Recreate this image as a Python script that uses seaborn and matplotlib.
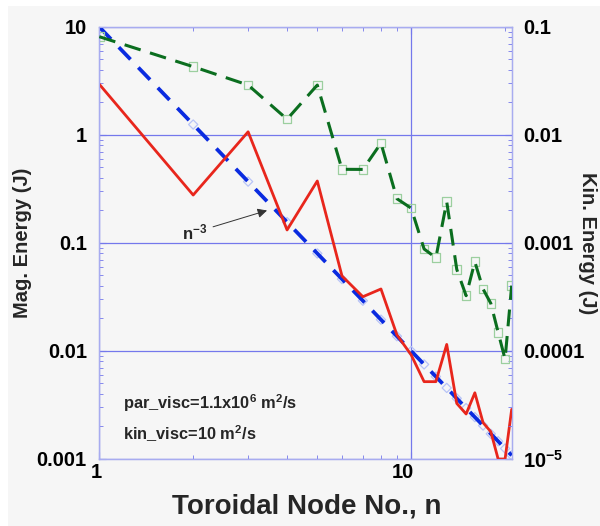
import numpy as np
import pandas as pd
import matplotlib
matplotlib.use("Agg")
import matplotlib.pyplot as plt
import matplotlib.ticker as mticker
import matplotlib.transforms as mtransforms
from matplotlib.patches import Rectangle
import seaborn as sns

# Toroidal mode numbers
n_modes = list(range(1, 22))

# Magnetic energy per toroidal mode (J), left axis
mag_energy = [2.95, 0.278, 1.07, 0.132, 0.375, 0.0495, 0.0318, 0.0375, 0.0141,
              0.0092, 0.0052, 0.0052, 0.0115, 0.00327, 0.00261, 0.0041,
              0.00217, 0.00179, 0.001, 0.001, 0.00288]

# Kinetic energy per toroidal mode (J), right axis
kin_energy = [0.0813, 0.0429, 0.029, 0.014, 0.029, 0.00481, 0.0048, 0.0084,
              0.00257, 0.0021, 0.00088, 0.00073, 0.00241, 0.00057, 0.000325,
              0.00067, 0.000375, 0.000276, 0.000149, 8.4e-5, 0.000403]

# n^-3 reference spectrum, normalised to 10 J at n = 1
ref_spectrum = [10.0, 1.25, 0.370, 0.156, 0.080, 0.0463, 0.0292, 0.0195,
                0.0137, 0.0100, 0.00751, 0.00579, 0.00455, 0.00364, 0.00296,
                0.00244, 0.00204, 0.00171, 0.00146, 0.00125, 0.00108]

left_ticks = [0.001, 0.01, 0.1, 1, 10]
left_labels = ["0.001", "0.01", "0.1", "1", "10"]
right_ticks = [1e-5, 1e-4, 1e-3, 1e-2, 1e-1]
right_labels = [r"$\mathbf{10^{-5}}$", "0.0001", "0.001", "0.01", "0.1"]
x_ticks = [1, 10]
x_labels = ["1", "10"]

df = pd.DataFrame({"n": n_modes, "mag": mag_energy, "kin": kin_energy,
                   "ref": ref_spectrum})

BG = "#f6f6f6"
FRAME = "#a8acf0"
GRID = "#7478ec"
TICKC = "#7478ec"
RED = "#e8261c"
GREEN = "#0b6e1f"
BLUE = "#0a2be0"

sns.set_style("ticks")
plt.rcParams["font.family"] = ["Liberation Sans", "DejaVu Sans"]
plt.rcParams["font.weight"] = "bold"
plt.rcParams["mathtext.fontset"] = "custom"
plt.rcParams["mathtext.rm"] = "Liberation Sans:bold"
plt.rcParams["mathtext.bf"] = "Liberation Sans:bold"
plt.rcParams["mathtext.it"] = "Liberation Sans:bold"
plt.rcParams["mathtext.default"] = "bf"
plt.rcParams["grid.color"] = GRID
plt.rcParams["grid.linewidth"] = 0.9
plt.rcParams["xtick.color"] = TICKC
plt.rcParams["ytick.color"] = TICKC
plt.rcParams["xtick.labelcolor"] = "black"
plt.rcParams["ytick.labelcolor"] = "black"

fig = plt.figure(figsize=(6.0, 5.26), dpi=100, facecolor="white")
fig.patches.append(Rectangle((8 / 600, 0), 1, 1 - 6 / 526,
                             transform=fig.transFigure, facecolor=BG,
                             edgecolor="none", zorder=-10))

ax = fig.add_axes([0.1655, 0.1274, 0.6873, 0.8213])
ax.set_facecolor(BG)
ax.set_axisbelow(True)
ax.set_xscale("log")
ax.set_yscale("log")
ax.set_xlim(1, 21)
ax.set_ylim(0.001, 10)

# reference n^-3 curve with faint diamond markers underneath the dashes
sns.scatterplot(data=df, x="n", y="ref", ax=ax, marker="D", s=22,
                facecolors="none", edgecolor="#b8c4f6", linewidth=0.9,
                zorder=2, legend=False)
sns.lineplot(data=df, x="n", y="ref", ax=ax, color=BLUE, linewidth=2.7,
             linestyle=(0, (4.5, 3.0)), zorder=3, legend=False)

# magnetic energy spectrum
sns.lineplot(data=df, x="n", y="mag", ax=ax, color=RED, linewidth=2.0,
             zorder=4, legend=False)

for s in ax.spines.values():
    s.set_color(FRAME)
    s.set_linewidth(1.0)

ax.xaxis.set_major_locator(mticker.FixedLocator(x_ticks))
ax.xaxis.set_major_formatter(mticker.FixedFormatter(x_labels))
ax.xaxis.set_minor_locator(mticker.LogLocator(base=10, subs=np.arange(2, 10)))
ax.xaxis.set_minor_formatter(mticker.NullFormatter())
ax.yaxis.set_major_locator(mticker.FixedLocator(left_ticks))
ax.yaxis.set_major_formatter(mticker.FixedFormatter(left_labels))
ax.yaxis.set_minor_locator(mticker.LogLocator(base=10, subs=np.arange(2, 10)))
ax.yaxis.set_minor_formatter(mticker.NullFormatter())

ax.tick_params(which="both", direction="in", top=True, right=False,
               color=TICKC, labelsize=14.5, labelcolor="black")
ax.tick_params(which="major", length=5, width=0.8)
ax.tick_params(which="minor", length=3, width=0.6)
ax.tick_params(axis="y", pad=9)
ax.tick_params(axis="x", pad=3)
ax.xaxis.grid(True, which="major", color=GRID, linewidth=0.9)
ax.yaxis.grid(True, which="major", color=GRID, linewidth=0.9)
for lbl in ax.get_xticklabels():
    lbl.set_horizontalalignment("right")
    lbl.set_transform(lbl.get_transform() +
                      mtransforms.ScaledTranslation(3 / 100, 0, fig.dpi_scale_trans))
for lbl in ax.get_xticklabels() + ax.get_yticklabels():
    lbl.set_fontweight("bold")
ax.set_xlabel("")
ax.set_ylabel("")

# kinetic energy on the secondary axis
ax2 = ax.twinx()
ax2.set_yscale("log")
ax2.set_ylim(1e-5, 0.1)
sns.scatterplot(data=df, x="n", y="kin", ax=ax2, marker="s", s=38,
                facecolors="none", edgecolor="#9ccf9f", linewidth=0.9,
                zorder=2, legend=False)
sns.lineplot(data=df, x="n", y="kin", ax=ax2, color=GREEN, linewidth=2.2,
             linestyle=(0, (5.5, 3.2)), zorder=3, legend=False)
ax2.set_xlim(1, 21)
ax2.yaxis.set_major_locator(mticker.FixedLocator(right_ticks))
ax2.yaxis.set_major_formatter(mticker.FixedFormatter(right_labels))
ax2.yaxis.set_minor_locator(mticker.LogLocator(base=10, subs=np.arange(2, 10)))
ax2.yaxis.set_minor_formatter(mticker.NullFormatter())
ax2.tick_params(which="both", direction="in", color=TICKC, labelsize=14.5,
                labelcolor="black", pad=8)
ax2.tick_params(which="major", length=5, width=0.8)
ax2.tick_params(which="minor", length=3, width=0.6)
ax2.xaxis.grid(False)
ax2.yaxis.grid(False)
for lbl in ax2.get_yticklabels():
    lbl.set_fontweight("bold")
for s in ax2.spines.values():
    s.set_color(FRAME)
ax2.set_xlabel("")
ax2.set_ylabel("")

# annotations
ax.annotate(r"n$^{\mathbf{-3}}$", xy=(3.45, 0.2), xytext=(1.84, 0.108),
            fontsize=12, fontweight="bold", ha="left", va="baseline",
            arrowprops=dict(arrowstyle="-|>", color="#333333", lw=0.7,
                            mutation_scale=14, shrinkA=2, shrinkB=0))
ax.text(1.19, 0.0033, r"par_visc=1.1x10$^{6}$ m$^{2}$/s", fontsize=11.8,
        fontweight="bold", ha="left", va="center")
ax.text(1.19, 0.0017, r"kin_visc=10 m$^{2}$/s", fontsize=11.8,
        fontweight="bold", ha="left", va="center")

fig.text(23 / 600, 1 - 243 / 526, "Mag. Energy (J)", rotation=90,
         ha="center", va="center", fontsize=14.5, fontweight="bold")
fig.text(588 / 600, 1 - 243 / 526, "Kin. Energy (J)", rotation=270,
         ha="center", va="center", fontsize=14.5, fontweight="bold")
fig.text(307 / 600, 1 - 507 / 526, "Toroidal Node No., n", ha="center",
         va="center", fontsize=20, fontweight="bold")

fig.canvas.draw()
for gl in ax.get_xgridlines() + ax.get_ygridlines():
    gl.set_color(GRID)

fig.savefig("out.png", dpi=100, facecolor=fig.get_facecolor())
